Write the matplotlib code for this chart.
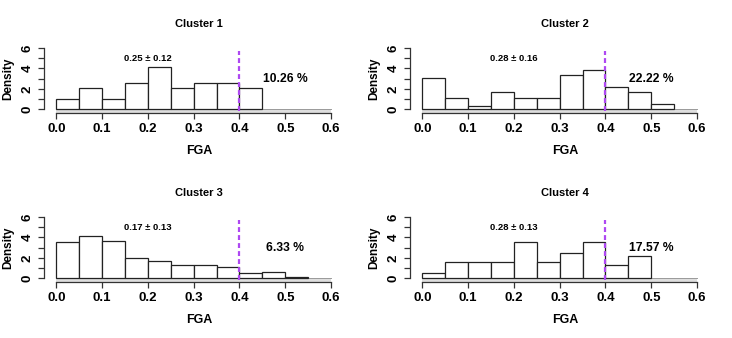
import matplotlib
matplotlib.use('Agg')
import matplotlib.pyplot as plt
import numpy as np

plt.rcParams['font.family'] = ['Liberation Sans', 'DejaVu Sans']
plt.rcParams['font.weight'] = 'bold'

# histogram bins (FGA), width 0.05
bin_width = 0.05
titles = ['Cluster 1', 'Cluster 2', 'Cluster 3', 'Cluster 4']

# counts per bin
counts_c1 = [2, 4, 2, 5, 8, 4, 5, 5, 4]
counts_c2 = [11, 4, 1, 6, 4, 4, 12, 14, 8, 6, 2]
counts_c3 = [28, 33, 29, 16, 13, 10, 10, 9, 4, 5, 1]
counts_c4 = [2, 6, 6, 6, 13, 6, 9, 13, 5, 8]
all_counts = [counts_c1, counts_c2, counts_c3, counts_c4]

mean_labels = ['0.25 \u00b1 0.12', '0.28 \u00b1 0.16', '0.17 \u00b1 0.13', '0.28 \u00b1 0.13']
pct_labels = ['10.26 %', '22.22 %', '6.33 %', '17.57 %']
cutoff = 0.4

W, H = 732, 338
fig = plt.figure(figsize=(W / 100, H / 100), dpi=100)

# panel geometry in pixels (panel 1), others shifted
ax_left, ax_top, ax_right, ax_bottom = 43.7, 44.9, 354, 113
offsets = [(0, 0), (366, 0), (0, 169), (366, 169)]

for i, (counts, offs) in enumerate(zip(all_counts, offsets)):
    dx, dy = offs
    ax = fig.add_axes([(ax_left + dx) / W, (H - ax_bottom - dy) / H,
                       (ax_right - ax_left) / W, (ax_bottom - ax_top) / H])
    n = sum(counts)
    dens = np.array(counts) / (n * bin_width)
    edges = np.arange(len(counts)) * bin_width
    ax.bar(edges, dens, width=bin_width, align='edge', facecolor='white',
           edgecolor='#222222', linewidth=0.9, zorder=3)
    ax.fill_between([0, 0.6], -0.36, 0, color='#dedede', zorder=1, linewidth=0)
    ax.plot([0, 0.6], [0, 0], color='#9a9a9a', lw=0.7, zorder=2)
    ax.plot([cutoff, cutoff], [-0.2, 5.7], color='#AE48F2', lw=1.6,
            dashes=(2.2, 1.4), zorder=4)

    ax.set_xlim(-0.0275, 0.65)
    ax.set_ylim(-0.36, 6.3)
    for s in ['top', 'right']:
        ax.spines[s].set_visible(False)
    ax.spines['left'].set_bounds(0, 6)
    ax.spines['bottom'].set_bounds(0, 0.6)
    for s in ['left', 'bottom']:
        ax.spines[s].set_color('#333333')
        ax.spines[s].set_linewidth(0.9)
        ax.spines[s].set_zorder(5)

    ax.set_xticks(np.arange(0, 0.61, 0.1))
    ax.set_xticklabels(['0.0', '0.1', '0.2', '0.3', '0.4', '0.5', '0.6'],
                       fontsize=9.5, fontweight='bold')
    ax.set_yticks(range(7))
    ax.set_yticklabels(['0', '', '2', '', '4', '', '6'], fontsize=9.5,
                       fontweight='bold', rotation=90, va='center')
    ax.tick_params(length=4.3, width=0.9, color='#333333', pad=3)

    ax.set_title(titles[i], fontsize=8, fontweight='bold', pad=13)
    ax.set_xlabel('FGA', fontsize=9, fontweight='bold', labelpad=7)
    ax.set_ylabel('Density', fontsize=8.5, fontweight='bold', labelpad=5)

    ax.text(0.2, 5.0, mean_labels[i], ha='center', va='center',
            fontsize=6.8, fontweight='bold')
    ax.text(0.5, 2.95, pct_labels[i], ha='center', va='center',
            fontsize=8.7, fontweight='bold')

plt.savefig('out.png', dpi=100)
